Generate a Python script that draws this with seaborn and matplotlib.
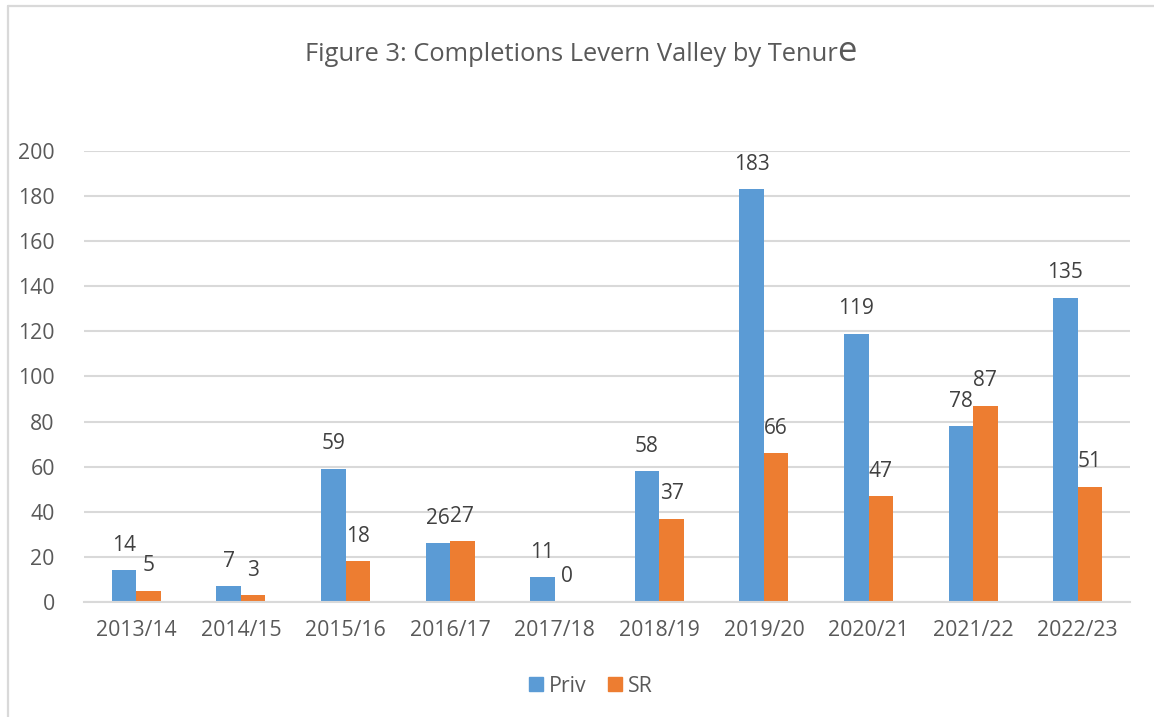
import matplotlib
matplotlib.use("Agg")
import matplotlib.pyplot as plt
from matplotlib.lines import Line2D
import seaborn as sns
import pandas as pd

# Completions per year, split by tenure
years = ["2013/14", "2014/15", "2015/16", "2016/17", "2017/18",
         "2018/19", "2019/20", "2020/21", "2021/22", "2022/23"]
priv = [14, 7, 59, 26, 11, 58, 183, 119, 78, 135]
sr = [5, 3, 18, 27, 0, 37, 66, 47, 87, 51]
series_names = ["Priv", "SR"]
y_ticks = [0, 20, 40, 60, 80, 100, 120, 140, 160, 180, 200]

df = pd.DataFrame({
    "Year": years * 2,
    "Completions": priv + sr,
    "Tenure": [series_names[0]] * len(years) + [series_names[1]] * len(years),
})

sns.set_theme(style="white")
plt.rcParams["font.family"] = ["Open Sans", "DejaVu Sans"]

TEXT = "#595959"
LABEL = "#404040"
GRID = "#D9D9D9"
palette = {"Priv": "#5B9BD5", "SR": "#ED7D31"}

fig = plt.figure(figsize=(11.54, 7.17), dpi=100)
ax = fig.add_axes([0.0728, 0.1604, 0.9064, 0.629])

sns.barplot(data=df, x="Year", y="Completions", hue="Tenure", palette=palette,
            order=years, hue_order=series_names, width=0.47, gap=0,
            linewidth=0, saturation=1, ax=ax, legend=False)

ax.set_xlim(-0.5, len(years) - 0.5)
ax.set_ylim(0, 200)
ax.set_yticks(y_ticks)
ax.set_xlabel("")
ax.set_ylabel("")
ax.yaxis.grid(True, color=GRID, linewidth=1.5)
ax.set_axisbelow(True)
for side in ["left", "right", "top"]:
    ax.spines[side].set_visible(False)
ax.spines["bottom"].set_color(GRID)
ax.spines["bottom"].set_linewidth(1.5)
ax.tick_params(axis="both", length=0, labelsize=15.3, labelcolor=TEXT)
ax.tick_params(axis="y", pad=21)
ax.tick_params(axis="x", pad=13)

# value labels above each bar
for container in ax.containers:
    for bar in container:
        h = bar.get_height()
        ax.annotate(f"{h:.0f}", xy=(bar.get_x() + bar.get_width() / 2, h),
                    xytext=(0, 18), textcoords="offset points",
                    ha="center", va="center", fontsize=15, color=LABEL)

# legend
handles = [plt.Rectangle((0, 0), 1, 1, color=palette[n]) for n in series_names]
fig.legend(handles, series_names, loc="center", bbox_to_anchor=(0.512, 0.043),
           ncol=2, frameon=False, fontsize=15.3, labelcolor=TEXT,
           handlelength=0.65, handleheight=0.65, handletextpad=0.3,
           columnspacing=1.0)

# title, with the final letter set larger
t1 = fig.text(0.7262, 0.915, "Figure 3: Completions Levern Valley by Tenur",
              ha="right", va="baseline", fontsize=18.4, color=TEXT)
fig.canvas.draw()
bb = t1.get_window_extent(renderer=fig.canvas.get_renderer())
fig.text((bb.x1 - 1) / fig.bbox.width, 0.915, "e", ha="left", va="baseline",
         fontsize=25, color=TEXT)

# chart frame
fig.add_artist(Line2D([0.0065, 0.0065], [0, 0.991], transform=fig.transFigure,
                      color=GRID, linewidth=1.6))
fig.add_artist(Line2D([0.0065, 1], [0.991, 0.991], transform=fig.transFigure,
                      color=GRID, linewidth=1.6))

fig.savefig("out.png", dpi=100)
